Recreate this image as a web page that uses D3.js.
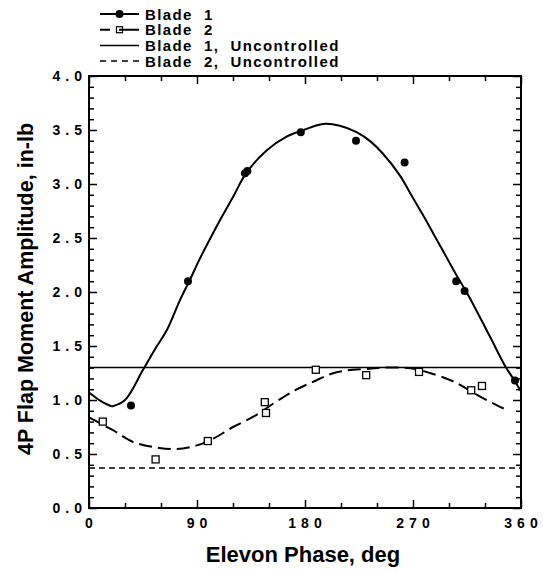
<!DOCTYPE html>
<html><head><meta charset="utf-8">
<script src="https://cdn.jsdelivr.net/npm/d3@7"></script>
<style>
html,body{margin:0;padding:0;background:#fff;}
svg text{font-family:"Liberation Sans",Arial,Helvetica,sans-serif;font-weight:bold;fill:#000;}
</style></head>
<body><svg id="c" width="543" height="571"></svg>
<script>
// ---- data ----
const blade1Phase = [35, 82.5, 130, 132, 176.5, 222.5, 263, 306, 313, 355];
const blade1Amp   = [0.95, 2.10, 3.10, 3.12, 3.48, 3.40, 3.20, 2.10, 2.01, 1.18];
const blade2Phase = [11.5, 55.5, 99, 146.5, 147.5, 189, 231, 275, 318.5, 327.5];
const blade2Amp   = [0.80, 0.45, 0.62, 0.98, 0.88, 1.28, 1.23, 1.26, 1.09, 1.13];
const fit1PhaseA = [0, 10, 19];
const fit1AmpA   = [1.07, 0.99, 0.94];
const fit1PhaseB = [19, 30, 45, 55, 65, 76, 84, 92, 106, 120, 131, 148, 165, 179, 195, 209, 223, 235, 245, 259, 270, 280, 290, 300, 306, 313, 318, 334, 347, 354, 360];
const fit1AmpB   = [0.94, 1.00, 1.28, 1.47, 1.65, 1.93, 2.11, 2.30, 2.60, 2.88, 3.10, 3.31, 3.44, 3.50, 3.556, 3.54, 3.48, 3.39, 3.28, 3.08, 2.87, 2.68, 2.48, 2.28, 2.16, 2.03, 1.93, 1.59, 1.31, 1.19, 1.08];
const fit2Phase = [0, 20, 37, 56, 73, 90, 104, 120, 137, 154, 170, 187, 204, 220, 234, 243, 258, 268, 284, 304, 323, 340, 350];
const fit2Amp   = [0.84, 0.72, 0.61, 0.56, 0.546, 0.58, 0.645, 0.75, 0.845, 0.97, 1.08, 1.17, 1.25, 1.28, 1.29, 1.30, 1.30, 1.295, 1.25, 1.17, 1.05, 0.95, 0.90];
const blade1Uncontrolled = 1.30;
const blade2Uncontrolled = 0.37;
const xMajor = [0, 90, 180, 270, 360];
const xMinor = [30, 60, 120, 150, 210, 240, 300, 330];
const yMajor = [0, 0.5, 1.0, 1.5, 2.0, 2.5, 3.0, 3.5, 4.0];
const yMinor = d3.range(0, 41).map(i => i / 10).filter(v => Math.round(v * 10) % 5 !== 0);
const legendLabels = ["Blade  1", "Blade  2", "Blade  1,  Uncontrolled", "Blade  2,  Uncontrolled"];
const xTitle = "Elevon Phase, deg";
const yTitle = "4P Flap Moment Amplitude, in-lb";

// ---- layout ----
const L = 89, R = 521, T = 76, B = 508;
const svg = d3.select("#c");
const x = d3.scaleLinear().domain([0, 360]).range([L, R]);
const y = d3.scaleLinear().domain([0, 4]).range([B, T]);

function axisStyle(g){ g.select(".domain").remove(); g.selectAll("line").attr("stroke","#000").attr("stroke-width",1.5); }
svg.append("g").attr("transform",`translate(0,${B})`).call(d3.axisBottom(x).tickValues(xMajor).tickSize(-8).tickFormat("")).call(axisStyle);
svg.append("g").attr("transform",`translate(0,${B})`).call(d3.axisBottom(x).tickValues(xMinor).tickSize(-5).tickFormat("")).call(axisStyle);
svg.append("g").attr("transform",`translate(0,${T})`).call(d3.axisTop(x).tickValues(xMajor).tickSize(-8).tickFormat("")).call(axisStyle);
svg.append("g").attr("transform",`translate(0,${T})`).call(d3.axisTop(x).tickValues(xMinor).tickSize(-5).tickFormat("")).call(axisStyle);
svg.append("g").attr("transform",`translate(${L},0)`).call(d3.axisLeft(y).tickValues(yMajor).tickSize(-8).tickFormat("")).call(axisStyle);
svg.append("g").attr("transform",`translate(${L},0)`).call(d3.axisLeft(y).tickValues(yMinor).tickSize(-5).tickFormat("")).call(axisStyle);
svg.append("g").attr("transform",`translate(${R},0)`).call(d3.axisRight(y).tickValues(yMajor).tickSize(-8).tickFormat("")).call(axisStyle);
svg.append("g").attr("transform",`translate(${R},0)`).call(d3.axisRight(y).tickValues(yMinor).tickSize(-5).tickFormat("")).call(axisStyle);
svg.append("rect").attr("x",L).attr("y",T).attr("width",R-L).attr("height",B-T).attr("fill","none").attr("stroke","#000").attr("stroke-width",2);

// tick labels
const LS = 5;
svg.append("g").selectAll("text").data(xMajor).join("text")
  .attr("x", d => x(d) + LS/2).attr("y", B + 20).attr("text-anchor","middle")
  .style("font-size","14px").style("letter-spacing", LS + "px").text(d => d);
svg.append("g").selectAll("text").data(yMajor).join("text")
  .attr("x", L - 7 + LS).attr("y", d => y(d) + 5).attr("text-anchor","end")
  .style("font-size","14px").style("letter-spacing", LS + "px").text(d => d.toFixed(1));

// titles
svg.append("text").attr("x", 303).attr("y", 562).attr("text-anchor","middle").style("font-size","22px").text(xTitle);
svg.append("text").attr("transform","translate(33,289) rotate(-90)").attr("text-anchor","middle").style("font-size","21.5px").text(yTitle);

// reference lines
svg.append("line").attr("x1",x(0)).attr("x2",x(360)).attr("y1",y(blade1Uncontrolled)).attr("y2",y(blade1Uncontrolled)).attr("stroke","#000").attr("stroke-width",1.5);
svg.append("line").attr("x1",x(0)).attr("x2",x(360)).attr("y1",y(blade2Uncontrolled)).attr("y2",y(blade2Uncontrolled)).attr("stroke","#000").attr("stroke-width",1.5).attr("stroke-dasharray","6,4");

// fitted curves
const smooth = d3.line().x(d => x(d[0])).y(d => y(d[1])).curve(d3.curveCatmullRom.alpha(0.5));
svg.append("path").datum(d3.zip(fit1PhaseA, fit1AmpA)).attr("d", smooth).attr("fill","none").attr("stroke","#000").attr("stroke-width",2);
svg.append("path").datum(d3.zip(fit1PhaseB, fit1AmpB)).attr("d", smooth).attr("fill","none").attr("stroke","#000").attr("stroke-width",2);
svg.append("path").datum(d3.zip(fit2Phase, fit2Amp)).attr("d", smooth).attr("fill","none").attr("stroke","#000").attr("stroke-width",2).attr("stroke-dasharray","13,6");

// markers
svg.append("g").selectAll("circle").data(d3.zip(blade1Phase, blade1Amp)).join("circle")
  .attr("cx", d => x(d[0])).attr("cy", d => y(d[1])).attr("r", 4).attr("fill","#000");
svg.append("g").selectAll("rect").data(d3.zip(blade2Phase, blade2Amp)).join("rect")
  .attr("x", d => x(d[0]) - 3.5).attr("y", d => y(d[1]) - 3.5).attr("width", 7).attr("height", 7)
  .attr("fill","#fff").attr("stroke","#000").attr("stroke-width",1.3);

// legend
const lg = svg.append("g");
const ly = i => 14 + i * 15.7;
const sx0 = 100, sx1 = 139;
lg.append("line").attr("x1",sx0).attr("x2",sx1).attr("y1",ly(0)).attr("y2",ly(0)).attr("stroke","#000").attr("stroke-width",2);
lg.append("circle").attr("cx",(sx0+sx1)/2).attr("cy",ly(0)).attr("r",4).attr("fill","#000");
lg.append("line").attr("x1",sx0).attr("x2",sx1).attr("y1",ly(1)).attr("y2",ly(1)).attr("stroke","#000").attr("stroke-width",2).attr("stroke-dasharray","10,9,20");
lg.append("rect").attr("x",(sx0+sx1)/2-3).attr("y",ly(1)-3).attr("width",6).attr("height",6).attr("fill","none").attr("stroke","#000").attr("stroke-width",1.2);
lg.append("line").attr("x1",sx0).attr("x2",sx1).attr("y1",ly(2)).attr("y2",ly(2)).attr("stroke","#000").attr("stroke-width",1.5);
lg.append("line").attr("x1",sx0).attr("x2",sx1).attr("y1",ly(3)).attr("y2",ly(3)).attr("stroke","#000").attr("stroke-width",1.5).attr("stroke-dasharray","6,5");
lg.selectAll("text").data(legendLabels).join("text")
  .attr("x",145).attr("y",(d,i) => ly(i) + 5.5).attr("xml:space","preserve")
  .style("white-space","pre").style("font-size","15px").style("letter-spacing","1.4px").text(d => d);
</script></body></html>
